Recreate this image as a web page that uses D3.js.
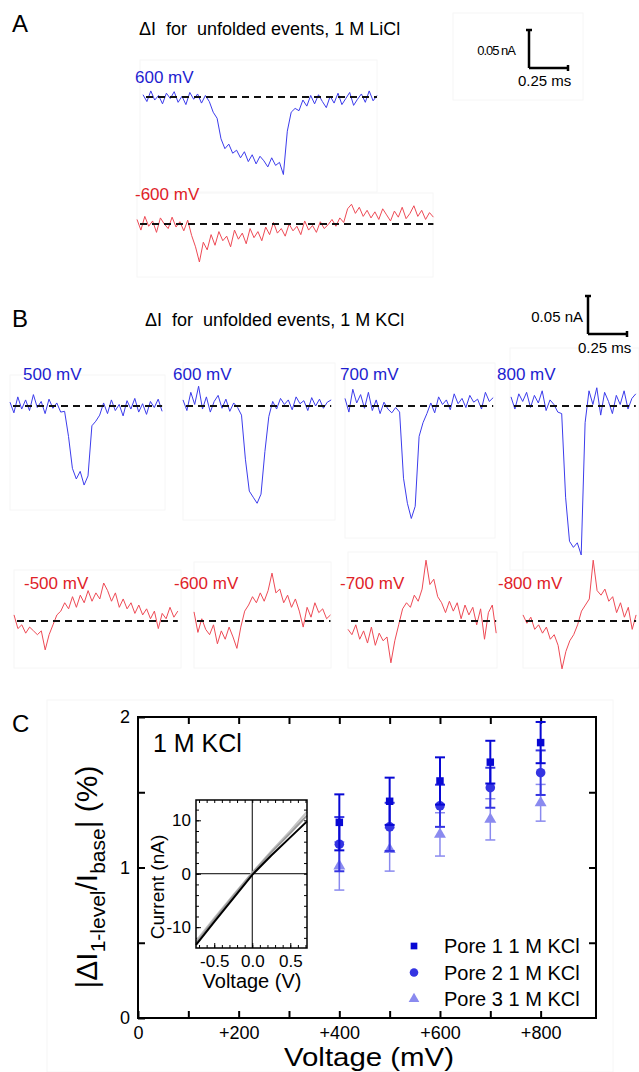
<!DOCTYPE html>
<html lang="en">
<head>
<meta charset="UTF-8">
<title>Unfolded events</title>
<script src="https://d3js.org/d3.v7.min.js"></script>
<style>
  body { margin: 0; background: #fff; }
  svg text { font-family: Arial, "Liberation Sans", sans-serif; }
</style>
</head>
<body>
<svg id="fig" width="639" height="1072"></svg>
<script>
// every current trace is sampled at this step (ms), values in pA relative to the open-pore level
const dt = 0.025;

// panel A, 1 M LiCl
const liclPos600 = [3, -6, 8, -4, 2, -9, 5, -2, 7, -7, 1, -10, 6, -3, 4, -8, 2,
  -6, -20, -28, -55, -68, -62, -74, -70, -80, -72, -85, -76, -88, -78, -84, -92, -80, -90, -86, -102,
  -45, -20, -15, -18,
  -4, -12, 2, -9, 3, -6, -14, 1, -8, 5, -10, -2, 6, -11, -3, 4, -7, 8, -5, 2];
const liclNeg600 = [6, -8, 10, -3, 4, -11, 8, 0, -6, 9, -4, 3, -9, 5,
  -15, -30, -50, -24, -34, -14, -28, -10, -22, -16, -30, -8, -20, -12, -26, -6, -18, -10, -22,
  -4, -14, 2, -12, -6, -16, 0, -9, -3, -14, 4, -8, -2, -11, 3, -6, -1,
  6, -3, 8, 2,
  20, 26, 14, 22, 10, 18, 8, 16, 6, 20, 12, 4, 17, 9, 22, 7, 14, 24, 10, 18, 6, 15, 9];

// panel B, 1 M KCl
const kclPos500 = [5, -9, 12, -4, 8, -6, 15, -2, 6, -10, 9, -3, 4, -8,
  -7, -40, -82, -96, -86, -104, -92, -26, -20, -12,
  4, -10, 8, -6, 2, -13, 7, -4, 10, -8, 3, -11, 6, -2, 9, -7];
const kclPos600 = [8, -6, 18, 2, 26, -4, 12, -8, 6, 14, -3, 9, -7, 4, -2,
  -12, -70, -112, -120, -128, -116, -60, -14,
  6, -4, 10, 2, 8, -5, 12, 3, 7, -6, 11, 0, 9, -3, 5, 8];
const kclPos700 = [10, -8, 22, 4, 15, -3, 18, -6, 8, -10, 5, -4, -9, -2,
  -8, -95, -128, -148, -132, -40, -22, -10,
  4, -9, 12, 2, 8, -5, 16, 3, 10, -2, 14, 5, 9, -4, 18, 6, 11];
const kclPos800 = [12, -4, 16, 6, 18, -2, 14, 4, 20, -6, 8, 2, -8,
  -10, -120, -178, -186, -180, -196, -22, 20,
  2, 24, -12, 18, 6, -10, 14, 2, 20, -4, 10, 16];
const kclNeg500 = [8, -10, -5, -16, -8, -13, -18, -13, -38, -18, -5, 8, 13, 24, 16, 32, 18, 34, 24, 40,
  26, 37, 29, 50, 40, 26, 37, 18, 29, 16, 24, 10, 21, 8, 16, 3, 13, -10, 10, 3, 18, 5, 13];
const kclNeg600 = [12, -15, 3, -11, -18, -5, -30, -13, -24, -8, -21, -36, -8, 13, 21, 32, 24, 37,
  26, 40, 63, 37, 42, 24, 34, 18, 29, 13, -8, 18, 5, 24, 11, 16, 3, 8];
const kclNeg700 = [-11, -18, -5, -24, -13, -29, -8, -32, -16, -26, -21, -55, -26, -5, 16, 24, 18, 34,
  26, 42, 80, 48, 55, 32, 24, 11, 26, 13, 24, 3, 21, 8, 18, -5, 16, -24, 11, 21, -16];
const kclNeg800 = [8, -3, 5, -11, -5, -16, -8, -24, -18, -32, -63, -40, -26, -18, -5, 13, 21, 29,
  80, 40, 34, 42, 26, 32, 11, 24, 5, 18, -11, 8];

// scale bars
const barCurrent = 50;   // pA
const barTime = 0.25;    // ms

// panel C
const voltages = [400, 500, 600, 700, 800];
const pore1 = [1.30, 1.44, 1.575, 1.70, 1.83];
const pore1Err = [0.186, 0.157, 0.157, 0.142, 0.137];
const pore2 = [1.155, 1.27, 1.41, 1.53, 1.63];
const pore2Err = [0.18, 0.16, 0.14, 0.133, 0.148];
const pore3 = [1.01, 1.12, 1.22, 1.32, 1.43];
const pore3Err = [0.16, 0.144, 0.144, 0.137, 0.122];
const poreNames = ["Pore 1 1 M KCl", "Pore 2 1 M KCl", "Pore 3 1 M KCl"];

// inset I-V curves
const ivVoltage = [-0.74, -0.5, -0.25, 0, 0.25, 0.5, 0.72];
const ivBlack = [-13.3, -9.0, -4.6, -0.2, 3.4, 6.8, 9.8];
const ivGrey1 = [-13.0, -8.6, -4.2, 0.1, 4.0, 7.6, 10.9];
const ivGrey2 = [-12.6, -8.3, -4.0, 0.2, 4.2, 8.0, 11.6];

const svg = d3.select("#fig");
const BLUE = "#3c3cec", RED = "#ee4a55";
const BLUE_TXT = "#1e1ed0", RED_TXT = "#e02228";
const FONT = "Arial, 'Liberation Sans', sans-serif";

// faint frames around the pasted pieces
const boxes = [[453, 13, 583, 100], [140, 60, 377, 192], [137, 193, 433, 277],
  [10, 375, 165, 510], [183, 363, 335, 520], [345, 363, 495, 538], [510, 348, 639, 570],
  [14, 570, 181, 668], [194, 562, 331, 668], [348, 552, 497, 668], [523, 552, 639, 668],
  [47, 700, 613, 1072]];
svg.append("g").selectAll("rect").data(boxes).enter().append("rect")
  .attr("x", d => d[0]).attr("y", d => d[1])
  .attr("width", d => d[2] - d[0]).attr("height", d => d[3] - d[1])
  .attr("fill", "none").attr("stroke", "#f6f6f6");

// ---------- traces ----------
const tPx = d3.scaleLinear().domain([0, 0.25]).range([0, 39]);
const iPx = d3.scaleLinear().domain([0, 50]).range([0, -38]);

const traces = [
  { data: liclPos600, x0: 143, y0: 97, color: BLUE, tc: BLUE_TXT, label: "600 mV", lx: 135, ly: 83 },
  { data: liclNeg600, x0: 137, y0: 224, color: RED, tc: RED_TXT, label: "-600 mV", lx: 135, ly: 200 },
  { data: kclPos500, x0: 10, y0: 406, color: BLUE, tc: BLUE_TXT, label: "500 mV", lx: 23, ly: 380 },
  { data: kclPos600, x0: 183, y0: 406, color: BLUE, tc: BLUE_TXT, label: "600 mV", lx: 173, ly: 380 },
  { data: kclPos700, x0: 345, y0: 406, color: BLUE, tc: BLUE_TXT, label: "700 mV", lx: 340, ly: 380 },
  { data: kclPos800, x0: 511, y0: 406, color: BLUE, tc: BLUE_TXT, label: "800 mV", lx: 497, ly: 380 },
  { data: kclNeg500, x0: 14, y0: 621, color: RED, tc: RED_TXT, label: "-500 mV", lx: 24, ly: 589 },
  { data: kclNeg600, x0: 194, y0: 621, color: RED, tc: RED_TXT, label: "-600 mV", lx: 174, ly: 589 },
  { data: kclNeg700, x0: 348, y0: 621, color: RED, tc: RED_TXT, label: "-700 mV", lx: 340, ly: 589 },
  { data: kclNeg800, x0: 523, y0: 621, color: RED, tc: RED_TXT, label: "-800 mV", lx: 498, ly: 589 }
];

traces.forEach(tr => {
  const g = svg.append("g");
  const line = d3.line()
    .x((d, i) => tr.x0 + tPx(i * dt))
    .y(d => tr.y0 + iPx(d));
  g.append("path").datum(tr.data).attr("d", line)
    .attr("fill", "none").attr("stroke", tr.color).attr("stroke-width", 1);
  const xEnd = tr.x0 + tPx((tr.data.length - 1) * dt);
  g.append("line")
    .attr("x1", tr.x0 + 3).attr("x2", xEnd)
    .attr("y1", tr.y0).attr("y2", tr.y0)
    .attr("stroke", "#111").attr("stroke-width", 2)
    .attr("stroke-dasharray", "7,5");
  g.append("text").attr("x", tr.lx).attr("y", tr.ly)
    .attr("font-size", 17).attr("fill", tr.tc).text(tr.label);
});

// scale bars
function scaleBar(x, y, nA, ms, nAx, nAy, msx, msy, small) {
  const g = svg.append("g").attr("stroke", "#000").attr("stroke-width", 2.5);
  const h = -iPx(barCurrent), w = tPx(barTime);
  g.append("line").attr("x1", x).attr("x2", x).attr("y1", y - h).attr("y2", y);
  g.append("line").attr("x1", x).attr("x2", x + w).attr("y1", y).attr("y2", y);
  g.append("line").attr("x1", x - 3).attr("x2", x + 3).attr("y1", y - h).attr("y2", y - h);
  g.append("line").attr("x1", x + w).attr("x2", x + w).attr("y1", y - 3).attr("y2", y + 3);
  svg.append("text").attr("x", nAx).attr("y", nAy).attr("text-anchor", "end")
    .attr("font-size", small ? 13 : 15).attr("letter-spacing", small ? -1 : 0).text(nA);
  svg.append("text").attr("x", msx).attr("y", msy).attr("font-size", 15).text(ms);
}
scaleBar(529, 68, "0.05 nA", "0.25 ms", 515, 55, 518, 86, true);
scaleBar(588, 334, "0.05 nA", "0.25 ms", 583, 322, 578, 353, false);

// panel letters and titles
[["A", 32], ["B", 327], ["C", 732]].forEach(d => {
  svg.append("text").attr("x", 12).attr("y", d[1]).attr("font-size", 24).text(d[0]);
});
svg.append("text").attr("x", 139).attr("y", 35).attr("font-size", 18)
  .attr("xml:space", "preserve").text("ΔI  for  unfolded events, 1 M LiCl");
svg.append("text").attr("x", 145).attr("y", 326).attr("font-size", 18)
  .attr("xml:space", "preserve").text("ΔI  for  unfolded events, 1 M KCl");

// ---------- panel C ----------
const x = d3.scaleLinear().domain([0, 910]).range([138, 596]);
const y = d3.scaleLinear().domain([0, 2]).range([1018, 717]);

const axes = svg.append("g");
axes.append("g").attr("transform", "translate(0,1018)")
  .call(d3.axisBottom(x).tickValues(d3.range(0, 900, 100)).tickSize(-7).tickPadding(8)
    .tickFormat(d => d % 200 ? "" : (d === 0 ? "0" : "+" + d)));
axes.append("g").attr("transform", "translate(0,717)")
  .call(d3.axisTop(x).tickValues(d3.range(100, 900, 100)).tickSize(-7).tickFormat(""));
axes.append("g").attr("transform", "translate(138,0)")
  .call(d3.axisLeft(y).tickValues([0, 0.5, 1, 1.5, 2]).tickSize(-7).tickPadding(8)
    .tickFormat(d => Number.isInteger(d) ? d : ""));
axes.append("g").attr("transform", "translate(596,0)")
  .call(d3.axisRight(y).tickValues([0.5, 1, 1.5]).tickSize(-7).tickFormat(""));
axes.selectAll(".domain").remove();
axes.selectAll(".tick line").attr("stroke-width", 2);
axes.selectAll("text").attr("font-family", FONT).attr("font-size", 18).attr("fill", "#000");
svg.append("rect").attr("x", 138).attr("y", 717).attr("width", 458).attr("height", 301)
  .attr("fill", "none").attr("stroke", "#000").attr("stroke-width", 2);

svg.append("text").attr("x", 153).attr("y", 752).attr("font-size", 25).text("1 M KCl");

svg.append("text").attr("x", 369).attr("y", 1066).attr("text-anchor", "middle")
  .attr("font-size", 25).attr("textLength", 170).attr("lengthAdjust", "spacingAndGlyphs")
  .text("Voltage (mV)");

const ylab = svg.append("text").attr("transform", "translate(97,877) rotate(-90)")
  .attr("text-anchor", "middle").attr("font-size", 30).attr("xml:space", "preserve");
ylab.append("tspan").text("|ΔI");
ylab.append("tspan").attr("font-size", 21).attr("dy", 8).text("1-level");
ylab.append("tspan").attr("dy", -8).text("/I");
ylab.append("tspan").attr("font-size", 21).attr("dy", 8).text("base");
ylab.append("tspan").attr("dy", -8).text("| (%)");

const series = [
  { v: pore3, e: pore3Err, color: "#8a8aef", sym: d3.symbolTriangle, size: 62, w: 1.5 },
  { v: pore2, e: pore2Err, color: "#3434e2", sym: d3.symbolCircle, size: 72, w: 2 },
  { v: pore1, e: pore1Err, color: "#0808d4", sym: d3.symbolSquare, size: 56, w: 2 }
];
series.forEach(s => {
  const g = svg.append("g").attr("stroke", s.color).attr("stroke-width", s.w);
  voltages.forEach((vx, i) => {
    const cx = x(vx), top = y(s.v[i] + s.e[i]), bot = y(s.v[i] - s.e[i]);
    g.append("line").attr("x1", cx).attr("x2", cx).attr("y1", top).attr("y2", bot);
    g.append("line").attr("x1", cx - 5).attr("x2", cx + 5).attr("y1", top).attr("y2", top);
    g.append("line").attr("x1", cx - 5).attr("x2", cx + 5).attr("y1", bot).attr("y2", bot);
  });
  svg.append("g").selectAll("path").data(s.v).enter().append("path")
    .attr("d", d3.symbol().type(s.sym).size(s.size))
    .attr("transform", (d, i) => `translate(${x(voltages[i])},${y(d)})`)
    .attr("fill", s.color);
});

// legend
const legendSeries = [series[2], series[1], series[0]];
legendSeries.forEach((s, i) => {
  const ly = 946 + i * 26.5;
  svg.append("path").attr("d", d3.symbol().type(s.sym).size(s.size * 0.8))
    .attr("transform", `translate(414,${ly})`).attr("fill", s.color);
  svg.append("text").attr("x", 444).attr("y", ly + 7).attr("font-size", 20).text(poreNames[i]);
});

// inset I-V
const ix = d3.scaleLinear().domain([-0.74, 0.72]).range([196, 307]);
const iy = d3.scaleLinear().domain([-13.9, 13.8]).range([948, 800]);
const inset = svg.append("g");
inset.append("rect").attr("x", 196).attr("y", 800).attr("width", 111).attr("height", 148).attr("fill", "#fff");
const ia = inset.append("g");
ia.append("g").attr("transform", "translate(0,948)")
  .call(d3.axisBottom(ix).tickValues([-0.5, 0, 0.5]).tickSize(-5).tickPadding(7).tickFormat(d => d.toFixed(1)));
ia.append("g").attr("transform", "translate(0,948)")
  .call(d3.axisBottom(ix).tickValues(d3.range(-0.7, 0.75, 0.1)).tickSize(-3).tickFormat(""));
ia.append("g").attr("transform", "translate(0,800)")
  .call(d3.axisTop(ix).tickValues(d3.range(-0.7, 0.75, 0.1)).tickSize(-3).tickFormat(""));
ia.append("g").attr("transform", "translate(196,0)")
  .call(d3.axisLeft(iy).tickValues([-10, 0, 10]).tickSize(-5).tickPadding(5).tickFormat(d => String(d)));
ia.append("g").attr("transform", "translate(196,0)")
  .call(d3.axisLeft(iy).tickValues(d3.range(-12, 13, 2)).tickSize(-3).tickFormat(""));
ia.append("g").attr("transform", "translate(307,0)")
  .call(d3.axisRight(iy).tickValues(d3.range(-12, 13, 2)).tickSize(-3).tickFormat(""));
ia.selectAll(".domain").remove();
ia.selectAll(".tick line").attr("stroke-width", 1);
ia.selectAll("text").attr("font-family", FONT).attr("font-size", 17).attr("fill", "#000");
inset.append("line").attr("x1", ix(0)).attr("x2", ix(0)).attr("y1", 800).attr("y2", 948)
  .attr("stroke", "#000").attr("stroke-width", 1);
inset.append("line").attr("x1", 196).attr("x2", 307).attr("y1", iy(0)).attr("y2", iy(0))
  .attr("stroke", "#000").attr("stroke-width", 1);
const ivLine = d3.line().x((d, i) => ix(ivVoltage[i])).y(d => iy(d));
[[ivGrey2, "#c4c4c4"], [ivGrey1, "#9a9a9a"], [ivBlack, "#000"]].forEach(c => {
  inset.append("path").datum(c[0]).attr("d", ivLine)
    .attr("fill", "none").attr("stroke", c[1]).attr("stroke-width", 2);
});
inset.append("rect").attr("x", 196).attr("y", 800).attr("width", 111).attr("height", 148)
  .attr("fill", "none").attr("stroke", "#000").attr("stroke-width", 1.5);
inset.append("text").attr("transform", "translate(164,887) rotate(-90)")
  .attr("text-anchor", "middle").attr("font-size", 19).text("Current (nA)");
inset.append("text").attr("x", 252).attr("y", 988).attr("text-anchor", "middle")
  .attr("font-size", 20).text("Voltage (V)");
</script>
</body>
</html>
